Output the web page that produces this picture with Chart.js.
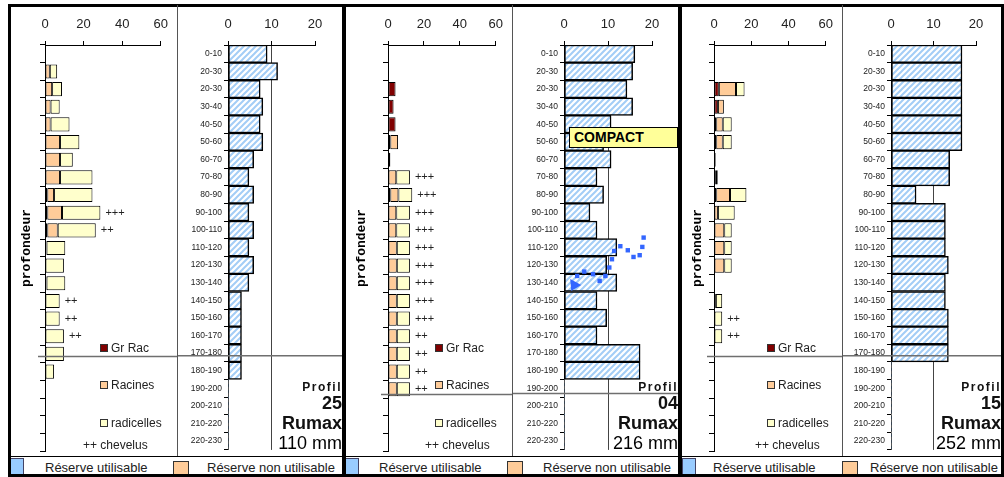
<!DOCTYPE html>
<html lang="fr">
<head>
<meta charset="utf-8">
<title>Profils racinaires et réserve utile</title>
<script src="https://cdn.jsdelivr.net/npm/chart.js@4.4.1/dist/chart.umd.min.js"></script>
<style>
  body { margin: 0; background: #fff; font-family: "Liberation Sans", Arial, sans-serif; }
  #page { position: relative; width: 1004px; height: 477px; overflow: hidden; background: #fff; }
  .panel { position: absolute; top: 0; height: 477px; overflow: hidden; }
</style>
</head>
<body>
<div id="page"></div>
<script>
// Depth classes (cm) - labels as written on the original sheet
const depthLabels = ['0-10', '20-30', '20-30', '30-40', '40-50', '50-60', '60-70', '70-80', '80-90', '90-100',
    '100-110', '110-120', '120-130', '130-140', '140-150', '150-160', '160-170', '170-180', '180-190',
    '190-200', '200-210', '210-220', '220-230'];

// Profil 25
const grRac25      = [0, 0, 0, 0, 0, 0, 0, 0, 1.2, 1.2, 1.2, 0.8, 0, 0.8, 0, 0, 0, 0, 0, 0, 0, 0, 0];
const racines25    = [0, 2.5, 3.7, 2.9, 2.9, 7.8, 7.8, 7.8, 3.5, 7.6, 5.4, 0, 0, 0, 0, 0, 0, 0, 0, 0, 0, 0, 0];
const radicelles25 = [0, 3.8, 5.1, 4.7, 9.8, 10.0, 6.6, 16.8, 19.9, 19.9, 19.7, 9.7, 9.8, 9.7, 7.6, 7.6, 9.8, 9.8, 4.7, 0, 0, 0, 0];
const chevelus25   = ['', '', '', '', '', '', '', '', '', '+++', '++', '', '', '', '++', '++', '++', '', '', '', '', '', ''];
const ru25         = [9.0, 11.4, 7.4, 8.0, 7.4, 8.0, 5.9, 4.8, 5.9, 4.8, 5.9, 4.8, 5.9, 4.8, 3.1, 3.1, 3.1, 3.1, 3.1, 0, 0, 0, 0];

// Profil 04
const grRac04      = [0, 0, 4.2, 3.1, 4.2, 1.3, 1.3, 0, 1.3, 0, 0, 0, 0, 0, 0, 0, 0, 0, 0, 0, 0, 0, 0];
const racines04    = [0, 0, 0, 0, 0, 4.3, 0, 4.6, 4.5, 4.6, 4.6, 4.9, 4.9, 4.9, 4.9, 4.9, 4.9, 4.9, 4.9, 4.9, 0, 0, 0];
const radicelles04 = [0, 0, 0, 0, 0, 0, 0, 7.6, 7.7, 7.6, 7.6, 7.3, 7.3, 7.3, 7.3, 7.3, 7.3, 7.3, 7.3, 7.3, 0, 0, 0];
const chevelus04   = ['', '', '', '', '', '', '', '+++', '+++', '+++', '+++', '+++', '+++', '+++', '+++', '+++', '++', '++', '++', '++', '', '', ''];
const ru04         = [16.1, 15.6, 14.3, 15.6, 10.7, 9.0, 10.7, 7.5, 9.0, 5.9, 7.5, 12.0, 9.7, 12.0, 7.5, 9.7, 7.5, 17.3, 17.3, 0, 0, 0, 0];

// Profil 15
const grRac15      = [0, 0, 2.6, 2.1, 1.2, 1.2, 0.9, 1.0, 1.2, 0, 0, 0, 0, 0, 1.0, 0, 0, 0, 0, 0, 0, 0, 0];
const racines15    = [0, 0, 9.2, 3.2, 3.5, 3.5, 0, 1.0, 7.4, 2.1, 5.5, 5.5, 5.5, 0, 0, 0, 0, 0, 0, 0, 0, 0, 0];
const radicelles15 = [0, 0, 4.6, 0, 4.8, 4.8, 0, 0, 8.8, 9.0, 4.0, 4.0, 4.0, 0, 3.4, 4.4, 4.4, 0, 0, 0, 0, 0, 0];
const chevelus15   = ['', '', '', '', '', '', '', '', '', '', '', '', '', '', '', '++', '++', '', '', '', '', '', ''];
const ru15         = [16.7, 16.7, 16.7, 16.7, 16.7, 16.7, 13.8, 13.8, 5.9, 12.8, 12.8, 12.8, 13.5, 12.8, 12.8, 13.5, 13.5, 13.5, 0, 0, 0, 0, 0];

// Rooting limit (position on the depth axis, in classes) for each profile
const rootDepth = [17.15, 19.3, 17.15];

// Hand-drawn dotted arrow next to the COMPACT layer (profil 04): RU units / depth classes
const compactCurveRu    = [18.1, 17.8, 17.2, 15.8, 14.5, 12.8, 11.4, 10.9, 10.3, 9.4, 8.1, 6.6, 4.6, 3.0, 2.1];
const compactCurveDepth = [10.44, 10.97, 11.44, 11.54, 11.16, 10.93, 11.2, 11.67, 12.14, 12.62, 12.9, 12.52, 12.37, 12.62, 13.13];

const rootTicks = [0, 20, 40, 60];
const ruTicks = [0, 10, 20];

Chart.defaults.font.family = '"Liberation Sans", Arial, sans-serif';
Chart.defaults.color = '#222';

const page = document.getElementById('page');

// Layout of the three panels (page pixels)
const panels = [
    { code: '25', rumax: '110 mm', grRac: grRac25, racines: racines25, radicelles: radicelles25, chevelus: chevelus25, ru: ru25, root: rootDepth[0],
      x0: 11, xMid: 177, x1: 342, leftAxisW: 34, leftPadR: 14, rightAxisW: 51, rightPadR: 27,
      legendX: 100, chevX: 83, blueX: 10, utilX: 45, orangeX: 173, nonUtilX: 207 },
    { code: '04', rumax: '216 mm', grRac: grRac04, racines: racines04, radicelles: radicelles04, chevelus: chevelus04, ru: ru04, root: rootDepth[1],
      x0: 346, xMid: 512, x1: 678, leftAxisW: 42, leftPadR: 14, rightAxisW: 52, rightPadR: 26,
      legendX: 435, chevX: 425, blueX: 345, utilX: 379, orangeX: 507, nonUtilX: 543, compact: true },
    { code: '15', rumax: '252 mm', grRac: grRac15, racines: racines15, radicelles: radicelles15, chevelus: chevelus15, ru: ru15, root: rootDepth[2],
      x0: 682, xMid: 842, x1: 1001, leftAxisW: 32, leftPadR: 14, rightAxisW: 49, rightPadR: 25,
      legendX: 767, chevX: 755, blueX: 682, utilX: 713, orangeX: 842, nonUtilX: 870 }
];

function el(parent, css, text) {
    const d = document.createElement('div');
    d.style.cssText = 'position:absolute;white-space:nowrap;' + css;
    if (text !== undefined) d.textContent = text;
    parent.appendChild(d);
    return d;
}

function addCanvas(parent, left, width) {
    const c = document.createElement('canvas');
    c.width = width;
    c.height = 452;
    c.style.cssText = `position:absolute;left:${left}px;top:5px;width:${width}px;height:452px;`;
    parent.appendChild(c);
    return c;
}

// Light blue diagonal hatching used for the RU bars
function makeHatch() {
    const tile = document.createElement('canvas');
    tile.width = 6;
    tile.height = 6;
    const g = tile.getContext('2d');
    g.fillStyle = '#fff';
    g.fillRect(0, 0, 6, 6);
    g.strokeStyle = '#a3cdf6';
    g.lineWidth = 2;
    g.beginPath();
    g.moveTo(-1, 7); g.lineTo(7, -1);
    g.moveTo(-1, 1); g.lineTo(1, -1);
    g.moveTo(5, 7); g.lineTo(7, 5);
    g.stroke();
    return document.createElement('canvas').getContext('2d').createPattern(tile, 'repeat');
}
const hatch = makeHatch();

// Grey horizontal line marking the rooting limit
function rootLine(depth, fromAxis) {
    return {
        id: 'rootLine',
        afterDatasetsDraw(chart) {
            const ctx = chart.ctx;
            const y = chart.scales.y.getPixelForValue(depth);
            const x0 = fromAxis ? chart.chartArea.left - 7 : 0;
            ctx.save();
            ctx.strokeStyle = '#6f6f6f';
            ctx.lineWidth = 1.5;
            ctx.beginPath();
            ctx.moveTo(x0, y);
            ctx.lineTo(chart.width, y);
            ctx.stroke();
            ctx.restore();
        }
    };
}

// "++" / "+++" marks for fine roots, written after each bar
function chevelusMarks(marks) {
    return {
        id: 'chevelusMarks',
        afterDatasetsDraw(chart) {
            const { ctx, scales: { x, y } } = chart;
            ctx.save();
            ctx.font = '11px "Liberation Sans", Arial, sans-serif';
            ctx.fillStyle = '#222';
            ctx.textBaseline = 'middle';
            marks.forEach((m, i) => {
                if (!m) return;
                const total = chart.data.datasets.reduce((s, d) => s + (d.data[i] || 0), 0);
                ctx.fillText(m, x.getPixelForValue(total) + 5, y.getPixelForValue(i));
            });
            ctx.restore();
        }
    };
}

// Blue dotted arrow drawn over the RU bars of profil 04
const compactArrow = {
    id: 'compactArrow',
    afterDatasetsDraw(chart) {
        const { ctx, scales: { x, y } } = chart;
        const n = compactCurveRu.length;
        ctx.save();
        ctx.fillStyle = '#3366ff';
        compactCurveRu.forEach((v, i) => {
            const px = x.getPixelForValue(v);
            const py = y.getPixelForValue(compactCurveDepth[i]);
            if (i < n - 1) {
                ctx.fillRect(px - 2.2, py - 2.2, 4.4, 4.4);
            } else {
                ctx.beginPath();
                ctx.moveTo(px + 8, py);
                ctx.lineTo(px - 3, py - 6);
                ctx.lineTo(px - 2, py + 6);
                ctx.closePath();
                ctx.fill();
            }
        });
        ctx.restore();
    }
};

const tickFont = { size: 13 };

panels.forEach(p => {
    const box = document.createElement('div');
    box.className = 'panel';
    box.style.left = p.x0 + 'px';
    box.style.width = (p.x1 - p.x0) + 'px';
    page.appendChild(box);

    // Root profile (stacked bars)
    const rootCanvas = addCanvas(box, 0, p.xMid - p.x0);
    new Chart(rootCanvas, {
        type: 'bar',
        data: {
            labels: depthLabels,
            datasets: [
                { label: 'Gr Rac', data: p.grRac, backgroundColor: '#800000' },
                { label: 'Racines', data: p.racines, backgroundColor: '#ffcc99' },
                { label: 'radicelles', data: p.radicelles, backgroundColor: '#ffffcc' }
            ]
        },
        options: {
            indexAxis: 'y',
            responsive: false,
            animation: false,
            layout: { padding: { left: 0, right: p.leftPadR, top: 0, bottom: 6 } },
            plugins: { legend: { display: false }, tooltip: { enabled: false } },
            datasets: {
                bar: {
                    barPercentage: 0.8,
                    categoryPercentage: 1,
                    borderColor: '#000',
                    borderWidth: c => (c.raw ? 1 : 0),
                    borderSkipped: false
                }
            },
            scales: {
                x: {
                    position: 'top',
                    stacked: true,
                    min: 0,
                    max: 60,
                    afterBuildTicks: s => { s.ticks = rootTicks.map(v => ({ value: v })); },
                    ticks: { font: tickFont, padding: 9, color: '#222' },
                    grid: { drawOnChartArea: false, tickLength: 4, color: '#000' },
                    border: { color: '#000' },
                    afterFit: s => { s.height = 40; }
                },
                y: {
                    stacked: true,
                    ticks: { display: false },
                    grid: { drawOnChartArea: false, tickLength: 5, color: '#000', offset: true },
                    border: { color: '#000' },
                    title: {
                        display: true,
                        text: 'profondeur',
                        color: '#000',
                        font: { family: '"Liberation Mono", monospace', weight: 'bold', size: 13 },
                        padding: { top: 8, bottom: 0 }
                    },
                    afterFit: s => { s.width = p.leftAxisW; }
                }
            }
        },
        plugins: [chevelusMarks(p.chevelus), rootLine(p.root, true)]
    });

    // Available water reserve (RU) per layer
    const ruCanvas = addCanvas(box, p.xMid - p.x0, p.x1 - p.xMid);
    const ruPlugins = [rootLine(p.root, false)];
    if (p.compact) ruPlugins.push(compactArrow);
    new Chart(ruCanvas, {
        type: 'bar',
        data: {
            labels: depthLabels,
            datasets: [{
                label: 'Réserve utilisable',
                data: p.ru,
                backgroundColor: hatch,
                borderColor: '#000',
                borderWidth: c => (c.raw ? 1.5 : 0),
                borderSkipped: false,
                barPercentage: 1,
                categoryPercentage: 1
            }]
        },
        options: {
            indexAxis: 'y',
            responsive: false,
            animation: false,
            layout: { padding: { left: 0, right: p.rightPadR, top: 0, bottom: 6 } },
            plugins: { legend: { display: false }, tooltip: { enabled: false } },
            scales: {
                x: {
                    position: 'top',
                    min: 0,
                    max: 20,
                    afterBuildTicks: s => { s.ticks = ruTicks.map(v => ({ value: v })); },
                    ticks: { font: tickFont, padding: 9, color: '#222' },
                    grid: {
                        tickLength: 4,
                        tickColor: '#000',
                        color: c => (c.tick && c.tick.value === 10 ? '#444' : 'rgba(0,0,0,0)')
                    },
                    border: { color: '#000' },
                    afterFit: s => { s.height = 40; }
                },
                y: {
                    ticks: { font: { size: 8.5 }, padding: 2, color: '#222' },
                    grid: { drawOnChartArea: false, tickLength: 4, color: '#000', offset: true },
                    border: { color: '#000' },
                    afterFit: s => { s.width = p.rightAxisW; }
                }
            }
        },
        plugins: ruPlugins
    });

    // Legend of the root chart
    const lx = p.legendX - p.x0;
    [['#800000', 'Gr Rac', 348], ['#ffcc99', 'Racines', 385], ['#ffffcc', 'radicelles', 423]].forEach(([col, txt, cy]) => {
        el(box, `left:${lx}px;top:${cy - 4}px;width:6px;height:6px;background:${col};border:1px solid #333;`);
        el(box, `left:${lx + 11}px;top:${cy - 8}px;font-size:12px;line-height:16px;color:#222;`, txt);
    });
    el(box, `left:${p.chevX - p.x0}px;top:${445 - 8}px;font-size:12px;line-height:16px;color:#222;`, '++ chevelus');

    // Profile name and maximum RU
    el(box, 'right:0;top:378px;font-size:12px;line-height:18px;font-weight:bold;letter-spacing:1.5px;color:#111;', 'Profil');
    el(box, 'right:0;top:393px;font-size:18px;line-height:20px;font-weight:bold;color:#111;', p.code);
    el(box, 'right:0;top:412px;font-size:18px;line-height:22px;font-weight:bold;color:#111;', 'Rumax');
    el(box, 'right:0;top:432px;font-size:18px;line-height:22px;color:#000;', p.rumax);

    if (p.compact) {
        el(box, `left:${569 - p.x0}px;top:127px;width:103px;height:19px;background:#ffff99;border:1px solid #000;` +
            'font-size:14px;font-weight:bold;line-height:19px;padding-left:4px;color:#000;', 'COMPACT');
    }

    // Bottom legend strip
    el(box, `left:${p.blueX - p.x0}px;top:458px;width:12px;height:16px;background:#99ccff;border:1px solid #446;`);
    el(box, `left:${p.utilX - p.x0}px;top:459px;font-size:13px;line-height:17px;color:#222;`, 'Réserve utilisable');
    el(box, `left:${p.orangeX - p.x0}px;top:461px;width:14px;height:14px;background:#ffcc99;border:1px solid #333;`);
    el(box, `left:${p.nonUtilX - p.x0}px;top:459px;font-size:13px;line-height:17px;color:#222;`, 'Réserve non utilisable');
});

// Frame: thick outer borders, thin separators
const frame = [
    'left:8px;top:4px;width:996px;height:3px;background:#000;',
    'left:8px;top:474px;width:996px;height:3px;background:#000;',
    'left:8px;top:456px;width:996px;height:1px;background:#000;',
    'left:8px;top:4px;width:3px;height:473px;background:#000;',
    'left:342px;top:4px;width:4px;height:473px;background:#000;',
    'left:678px;top:4px;width:4px;height:473px;background:#000;',
    'left:1001px;top:4px;width:3px;height:473px;background:#000;',
    'left:177px;top:5px;width:1px;height:451px;background:#555;',
    'left:512px;top:5px;width:1px;height:451px;background:#555;',
    'left:842px;top:5px;width:1px;height:451px;background:#555;'
];
frame.forEach(css => el(page, css + 'z-index:5;'));
</script>
</body>
</html>
